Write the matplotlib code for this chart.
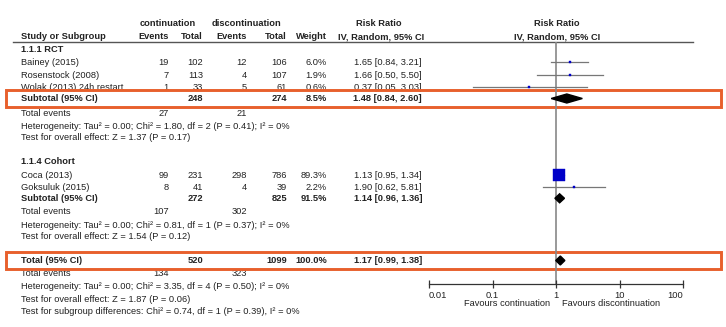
import numpy as np
import matplotlib
matplotlib.use("Agg")
import matplotlib.pyplot as plt
from matplotlib.patches import Rectangle

plt.rcParams['font.family'] = ['Liberation Sans', 'DejaVu Sans']

# study data
studies = ["Bainey (2015)", "Rosenstock (2008)", "Wolak (2013) 24h restart",
           "Coca (2013)", "Goksuluk (2015)"]
ev_c = [19, 7, 1, 99, 8]
tot_c = [102, 113, 33, 231, 41]
ev_d = [12, 4, 5, 298, 4]
tot_d = [106, 107, 61, 786, 39]
weight = [6.0, 1.9, 0.6, 89.3, 2.2]
rr = [1.65, 1.66, 0.37, 1.13, 1.90]
rr_lo = [0.84, 0.50, 0.05, 0.95, 0.62]
rr_hi = [3.21, 5.50, 3.03, 1.34, 5.81]

# pooled results: subtotal RCT, subtotal cohort, total
pool_names = ["Subtotal (95% CI)", "Subtotal (95% CI)", "Total (95% CI)"]
pool_tot_c = [248, 272, 520]
pool_tot_d = [274, 825, 1099]
pool_weight = [8.5, 91.5, 100.0]
pool_rr = [1.48, 1.14, 1.17]
pool_lo = [0.84, 0.96, 0.99]
pool_hi = [2.60, 1.36, 1.38]
pool_ev_c = [27, 107, 134]
pool_ev_d = [21, 302, 323]

stats_lines = [
    ["Heterogeneity: Tau² = 0.00; Chi² = 1.80, df = 2 (P = 0.41); I² = 0%",
     "Test for overall effect: Z = 1.37 (P = 0.17)"],
    ["Heterogeneity: Tau² = 0.00; Chi² = 0.81, df = 1 (P = 0.37); I² = 0%",
     "Test for overall effect: Z = 1.54 (P = 0.12)"],
    ["Heterogeneity: Tau² = 0.00; Chi² = 3.35, df = 4 (P = 0.50); I² = 0%",
     "Test for overall effect: Z = 1.87 (P = 0.06)",
     "Test for subgroup differences: Chi² = 0.74, df = 1 (P = 0.39), I² = 0%"],
]
group_names = ["1.1.1 RCT", "1.1.4 Cohort"]
axis_ticks = [0.01, 0.1, 1, 10, 100]
axis_ticklabels = ["0.01", "0.1", "1", "10", "100"]

# layout (pixel rows, top = 0)
W, H = 726, 327
study_y = [62.5, 75, 87, 175, 187.3]
group_y = [49, 161]
pool_y = [98.5, 198.3, 260.5]
events_y = [113.3, 211.7, 274]
stats_y = [[126.5, 137.5], [225, 236.7], [286.7, 299, 311]]
box_rows = [(90, 106.5), (251.5, 268.5)]

x_study = 21
x_evc, x_totc, x_evd, x_totd, x_w = 169, 203, 247, 287, 327
x_ci = 422
x_zero = 557
TXT = "#222222"
FS = 6.7
ORANGE = "#E8602C"

fig = plt.figure(figsize=(W / 100, H / 100), dpi=100)
ax = fig.add_axes([0, 0, 1, 1])
ax.set_xlim(0, W)
ax.set_ylim(H, 0)
ax.axis("off")


def txt(x, y, s, ha="left", bold=False):
    ax.text(x, y, s, ha=ha, va="center", fontsize=FS, color=TXT,
            fontweight="bold" if bold else "normal")


# headers
txt(168, 24, "continuation", ha="center", bold=True)
txt(246, 24, "discontinuation", ha="center", bold=True)
txt(379, 24, "Risk Ratio", ha="center", bold=True)
txt(x_zero, 24, "Risk Ratio", ha="center", bold=True)
txt(x_study, 36.7, "Study or Subgroup", bold=True)
txt(x_evc, 36.7, "Events", ha="right", bold=True)
txt(x_totc, 36.7, "Total", ha="right", bold=True)
txt(x_evd, 36.7, "Events", ha="right", bold=True)
txt(x_totd, 36.7, "Total", ha="right", bold=True)
txt(x_w, 36.7, "Weight", ha="right", bold=True)
txt(x_ci + 2, 36.7, "IV, Random, 95% CI", ha="right", bold=True)
txt(x_zero, 36.7, "IV, Random, 95% CI", ha="center", bold=True)
ax.plot([13, 693], [42.3, 42.3], color="#555555", lw=1.0)

for g, y in zip(group_names, group_y):
    txt(x_study, y, g, bold=True)

for i, s in enumerate(studies):
    y = study_y[i]
    txt(x_study, y, s)
    txt(x_evc, y, str(ev_c[i]), ha="right")
    txt(x_totc, y, str(tot_c[i]), ha="right")
    txt(x_evd, y, str(ev_d[i]), ha="right")
    txt(x_totd, y, str(tot_d[i]), ha="right")
    txt(x_w, y, f"{weight[i]:.1f}%", ha="right")
    txt(x_ci, y, f"{rr[i]:.2f} [{rr_lo[i]:.2f}, {rr_hi[i]:.2f}]", ha="right")

for k in range(3):
    y = pool_y[k]
    txt(x_study, y, pool_names[k], bold=True)
    txt(x_totc, y, str(pool_tot_c[k]), ha="right", bold=True)
    txt(x_totd, y, str(pool_tot_d[k]), ha="right", bold=True)
    txt(x_w, y, f"{pool_weight[k]:.1f}%", ha="right", bold=True)
    txt(x_ci, y, f"{pool_rr[k]:.2f} [{pool_lo[k]:.2f}, {pool_hi[k]:.2f}]",
        ha="right", bold=True)
    txt(x_study, events_y[k], "Total events")
    txt(x_evc, events_y[k], str(pool_ev_c[k]), ha="right")
    txt(x_evd, events_y[k], str(pool_ev_d[k]), ha="right")
    for line, ly in zip(stats_lines[k], stats_y[k]):
        txt(x_study, ly, line)

# forest panel: log axis, rows in the same pixel units
fx0, fx1 = 429, 683
fy_top, fy_bot = 42.3, 284
fa = fig.add_axes([fx0 / W, 1 - fy_bot / H, (fx1 - fx0) / W, (fy_bot - fy_top) / H])
fa.patch.set_alpha(0)
fa.set_xscale("log")
fa.set_xlim(0.01, 100)
fa.set_ylim(fy_bot, fy_top)
for sp in ["top", "left", "right"]:
    fa.spines[sp].set_visible(False)
fa.spines["bottom"].set_color("#333333")
fa.spines["bottom"].set_linewidth(0.9)
fa.set_yticks([])
fa.set_xticks(axis_ticks)
fa.set_xticklabels(axis_ticklabels)
fa.minorticks_off()
fa.tick_params(axis="x", direction="inout", length=6, width=0.9, color="#333333",
               labelsize=FS, labelcolor=TXT, pad=2)
labs = fa.get_xticklabels()
labs[0].set_horizontalalignment("left")
labs[-1].set_horizontalalignment("right")
fa.axvline(1, color="#888888", lw=1.2, zorder=1)

for i in range(len(studies)):
    y = study_y[i]
    fa.plot([rr_lo[i], rr_hi[i]], [y, y], color="#777777", lw=0.9, zorder=2)
    ms = max(1.5, 9.2 * weight[i] / max(weight))
    fa.plot(rr[i], y, marker="s", ms=ms, color="#0000C8", mec="#0000C8",
            mew=0.3, zorder=3)

for k in range(3):
    y = pool_y[k]
    h = 4.5
    fa.fill([pool_lo[k], pool_rr[k], pool_hi[k], pool_rr[k]],
            [y, y - h, y, y + h], color="black", zorder=4)

ax.text(550, 304, "Favours continuation", ha="right", va="center", fontsize=FS, color=TXT)
ax.text(562, 304, "Favours discontinuation", ha="left", va="center", fontsize=FS, color=TXT)

# highlight boxes
for (y0, y1) in box_rows:
    ax.add_patch(Rectangle((6, y0), 715, y1 - y0, fill=False, edgecolor=ORANGE,
                           lw=2.1, zorder=10))

fig.savefig("out.png", dpi=100)
